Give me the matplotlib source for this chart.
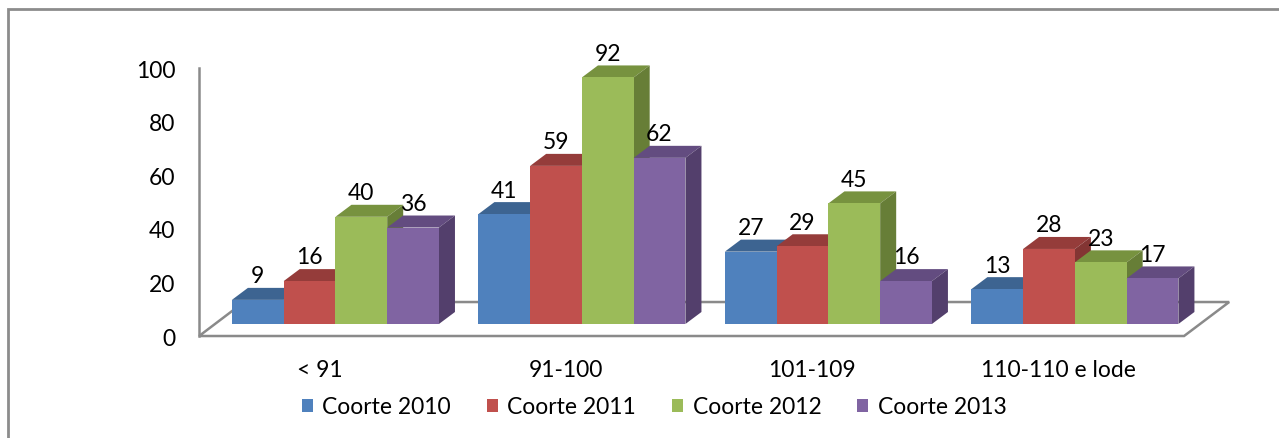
"""
Clustered 3D-style bar chart: voto di laurea per coorte.
"""

import matplotlib.pyplot as plt
from matplotlib.patches import Polygon, Rectangle

plt.rcParams["font.family"] = ["Lato", "DejaVu Sans"]

categories = ["< 91", "91-100", "101-109", "110-110 e lode"]
series = ["Coorte 2010", "Coorte 2011", "Coorte 2012", "Coorte 2013"]
coorte_2010 = [9, 41, 27, 13]
coorte_2011 = [16, 59, 29, 28]
coorte_2012 = [40, 92, 45, 23]
coorte_2013 = [36, 62, 16, 17]
y_ticks = [0, 20, 40, 60, 80, 100]

values = [coorte_2010, coorte_2011, coorte_2012, coorte_2013]
front_colors = ["#4F81BD", "#C0504D", "#9BBB59", "#8064A2"]
top_colors = ["#3D6491", "#953C3A", "#77923F", "#634C80"]
side_colors = ["#375A82", "#833533", "#677E37", "#533F6C"]

# fake 3D geometry (data units)
bar_w = 0.21
dx, dy = 0.065, 4.48
grey = "#8A8A8A"
fs = 16.5

fig = plt.figure(figsize=(12.79, 4.39), dpi=100)
ax = fig.add_axes([175.2 / 1279, 87.2 / 439, 1059.9 / 1279, 308.2 / 439])
ax.set_xlim(-0.65, 3.65)
ax.set_ylim(-10, 105)

# floor and vertical axis
floor = Polygon(
    [(-0.553, -dy), (3.443, -dy), (3.626, 8.2), (-0.371, 8.2)],
    closed=True, facecolor="white", edgecolor=grey, lw=1.8, zorder=1,
)
ax.add_patch(floor)
ax.plot([-0.553, -0.553], [-dy, 100 - dy], color=grey, lw=1.8, zorder=1)

# bars, drawn group by group from left to right so faces overlap correctly
handles = []
for j, vals in enumerate(values):
    x = [i + (j - 2) * bar_w for i in range(len(categories))]
    bars = ax.bar(x, vals, width=bar_w, align="edge", color=front_colors[j],
                  label=series[j], zorder=3 + 3 * j)
    handles.append(bars)
for i in range(len(categories)):
    for j, vals in enumerate(values):
        x0 = i + (j - 2) * bar_w
        v = vals[i]
        z = 10 + i * 10 + j
        ax.add_patch(Polygon(
            [(x0, v), (x0 + bar_w, v), (x0 + bar_w + dx, v + dy), (x0 + dx, v + dy)],
            closed=True, facecolor=top_colors[j], edgecolor="none", zorder=z,
        ))
        ax.add_patch(Polygon(
            [(x0 + bar_w, 0), (x0 + bar_w + dx, dy), (x0 + bar_w + dx, v + dy), (x0 + bar_w, v)],
            closed=True, facecolor=side_colors[j], edgecolor="none", zorder=z,
        ))
        ax.add_patch(Rectangle((x0, 0), bar_w, v, facecolor=front_colors[j],
                               edgecolor="none", zorder=z + 0.5))
        ax.text(x0 + bar_w / 2, v + 9.0, str(v), ha="center", va="center",
                fontsize=fs, zorder=60)

# ticks
ax.set_yticks([t - dy for t in y_ticks])
ax.set_yticklabels([str(t) for t in y_ticks])
ax.set_xticks([i - dx for i in range(len(categories))])
ax.set_xticklabels(categories)
ax.tick_params(axis="both", length=0, labelsize=fs)
ax.tick_params(axis="y", pad=0)
ax.tick_params(axis="x", pad=6)
for s in ax.spines.values():
    s.set_visible(False)

fig.legend(handles, series, loc="center", bbox_to_anchor=(654 / 1279, 31 / 439),
           ncol=4, frameon=False, fontsize=fs, handlelength=0.48,
           handleheight=0.48, handletextpad=0.43, columnspacing=1.55)

# chart area border (cut off at right/bottom like the source)
fig.add_artist(Rectangle((8 / 1279, -0.1), 1.2, (429 / 439) + 0.1,
                         transform=fig.transFigure, fill=False,
                         edgecolor="#8C8C8C", lw=2))

fig.savefig("out.png", dpi=100)
